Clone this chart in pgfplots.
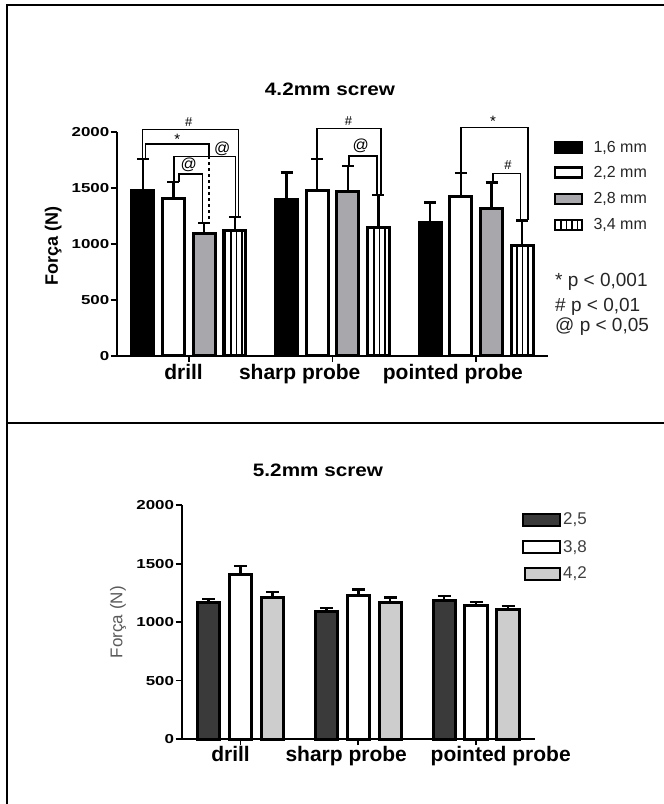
\documentclass[border=0pt]{standalone}
\usepackage{pgfplots}
\pgfplotsset{compat=1.18}
\usepackage{pgfplotstable}
\usepackage{graphicx}
\usepackage{fontspec}
\setmainfont{Liberation Sans}
\usetikzlibrary{patterns.meta}

\definecolor{midgray}{RGB}{168,168,172}
\definecolor{darkbar}{RGB}{58,58,58}
\definecolor{lightbar}{RGB}{205,205,205}

\newcommand\hs[2]{\scalebox{#1}[1]{#2}}
\newcommand\fs[1]{\fontsize{#1}{#1}\selectfont}

% 4.2 mm screw: x = group (0 drill, 1 sharp probe, 2 pointed probe), y = mean, e = upper error
\pgfplotstableread{
x y e
0 1475 285
1 1395 245
2 1188 185
}\tA
\pgfplotstableread{
x y e
0 1405 150
1 1478 285
2 1421 212
}\tB
\pgfplotstableread{
x y e
0 1098 92
1 1467 233
2 1316 236
}\tC
\pgfplotstableread{
x y e
0 1125 115
1 1150 286
2 985 226
}\tD
% 5.2 mm screw
\pgfplotstableread{
x y e
0 1166 34
1 1089 34
2 1189 34
}\bA
\pgfplotstableread{
x y e
0 1409 71
1 1232 48
2 1140 34
}\bB
\pgfplotstableread{
x y e
0 1212 48
1 1166 46
2 1109 31
}\bC

\pgfplotsset{
  mybase/.style={
    scale only axis, axis x line=bottom, axis y line=left,
    axis line style={line width=2.2pt,-},
    xmin=-0.5, xmax=2.5, ymin=0, ymax=2000, clip=false,
    xtick={0,1,2}, xticklabels={},
    ytick={0,500,1000,1500,2000},
    yticklabels={\hs{1.3}{0},\hs{1.3}{500},\hs{1.3}{1000},\hs{1.3}{1500},\hs{1.3}{2000}},
    tick align=outside, major tick length=6pt,
    tick style={line width=1.8pt, black},
    yticklabel style={font=\bfseries\fs{13}, inner sep=1.5pt},
  },
  bars/.style={ybar, bar shift=0pt, draw=black, line width=3pt,
    error bars/y dir=plus, error bars/y explicit,
    error bars/error bar style={line width=2.4pt, black},
    error bars/error mark options={rotate=90, mark size=#1, line width=2.4pt, black}},
  bars/.default=6pt,
  brk/.style={black, line width=1.5pt, mark=none, forget plot},
}

\begin{document}
\begin{tikzpicture}[x=1pt,y=1pt]
\useasboundingbox (0,0) rectangle (664,804);
\draw[line width=2pt] (6.5,0) -- (6.5,799) -- (664,799);
\draw[line width=2pt] (6.5,381.3) -- (664,381.3);

% ---------- top: 4.2mm screw ----------
\node[font=\bfseries\fs{18}] at (330,715) {\hs{1.15}{4.2mm screw}};
\begin{axis}[mybase, at={(117pt,448.3pt)}, anchor=south west, width=431pt, height=223.4pt]
\addplot[bars, bar width=0.153, fill=black] table[x expr=\thisrow{x}-0.32,y=y,y error=e]{\tA};
\addplot[bars, bar width=0.153, fill=white] table[x expr=\thisrow{x}-0.107,y=y,y error=e]{\tB};
\addplot[bars, bar width=0.153, fill=midgray] table[x expr=\thisrow{x}+0.107,y=y,y error=e]{\tC};
\addplot[bars, bar width=0.153, fill=white,
  postaction={pattern={Lines[angle=90,distance=5.5pt,line width=1.4pt]}, pattern color=black}]
  table[x expr=\thisrow{x}+0.32,y=y,y error=e]{\tD};
% significance brackets, drill
\addplot[brk] coordinates {(-0.324,1760) (-0.324,2027) (0.347,2027) (0.347,1240)};
\addplot[brk] coordinates {(-0.301,1760) (-0.301,1893) (0.139,1893) (0.139,1788)};
\addplot[brk, dashed] coordinates {(0.139,1788) (0.139,1190)};
\addplot[brk] coordinates {(-0.104,1558) (-0.104,1782) (0.324,1782) (0.324,1240)};
\addplot[brk] coordinates {(-0.07,1558) (-0.07,1627) (0.095,1627) (0.095,1190)};
% sharp probe
\addplot[brk] coordinates {(0.892,1763) (0.892,2036) (1.336,2036) (1.336,1436)};
\addplot[brk] coordinates {(1.116,1700) (1.116,1788) (1.308,1788) (1.308,1436)};
% pointed probe
\addplot[brk] coordinates {(1.893,1633) (1.893,2045) (2.36,2045) (2.36,1211)};
\addplot[brk] coordinates {(2.118,1552) (2.118,1633) (2.308,1633) (2.308,1211)};
\node[font=\fs{13}] at (axis cs:0,2095) {\#};
\node[font=\fs{15}] at (axis cs:-0.081,1935) {*};
\node[font=\fs{16}] at (axis cs:0.232,1856) {@};
\node[font=\fs{16}] at (axis cs:0.0,1707) {@};
\node[font=\fs{13}] at (axis cs:1.111,2101) {\#};
\node[font=\fs{16}] at (axis cs:1.197,1877) {@};
\node[font=\fs{15}] at (axis cs:2.118,2100) {*};
\node[font=\fs{13}] at (axis cs:2.222,1707) {\#};
% category labels
\node[font=\bfseries\fs{21}, anchor=base] at (axis cs:-0.037,0) [yshift=-23.5pt] {drill};
\node[font=\bfseries\fs{21}, anchor=base] at (axis cs:0.772,0) [yshift=-23.5pt] {sharp probe};
\node[font=\bfseries\fs{21}, anchor=base] at (axis cs:1.838,0) [yshift=-23.5pt] {pointed probe};
\node[font=\bfseries\fs{18}, rotate=90] at (axis description cs:-0.148,0.49) {Força (N)};
\end{axis}

% top legend
\begin{scope}[line width=2.4pt]
\draw[fill=black] (555,651.3) rectangle (581.7,661.3);
\draw[fill=white] (555,626.3) rectangle (581.7,636.3);
\draw[fill=midgray] (555,599.7) rectangle (581.7,609.7);
\draw[fill=white, postaction={pattern={Lines[angle=90,distance=5.5pt,line width=1.4pt]}, pattern color=black}] (555,574) rectangle (581.7,584);
\end{scope}
\begin{scope}[font=\fs{16}, text=black!85]
\node[anchor=west, inner sep=0pt] at (593.3,656.3) {1,6 mm};
\node[anchor=west, inner sep=0pt] at (593.3,631.3) {2,2 mm};
\node[anchor=west, inner sep=0pt] at (593.3,604.7) {2,8 mm};
\node[anchor=west, inner sep=0pt] at (593.3,579) {3,4 mm};
\end{scope}
\begin{scope}[font=\fs{19}, text=black!85]
\node[anchor=west, inner sep=0pt] at (555,522.3) {* p < 0,001};
\node[anchor=west, inner sep=0pt] at (555,497.3) {\# p < 0,01};
\node[anchor=west, inner sep=0pt] at (555,477.3) {@ p < 0,05};
\end{scope}

% ---------- bottom: 5.2mm screw ----------
\node[font=\bfseries\fs{18}] at (318,333.3) {\hs{1.15}{5.2mm screw}};
\begin{axis}[mybase, at={(181.7pt,65pt)}, anchor=south west, width=353.3pt, height=233.7pt]
\addplot[bars=6.5pt, bar width=0.19, fill=darkbar] table[x expr=\thisrow{x}-0.271,y=y,y error=e]{\bA};
\addplot[bars=6.5pt, bar width=0.19, fill=white] table[x=x,y=y,y error=e]{\bB};
\addplot[bars=6.5pt, bar width=0.19, fill=lightbar] table[x expr=\thisrow{x}+0.271,y=y,y error=e]{\bC};
\node[font=\bfseries\fs{21}, anchor=base] at (axis cs:-0.085,0) [yshift=-22.7pt] {drill};
\node[font=\bfseries\fs{21}, anchor=base] at (axis cs:0.897,0) [yshift=-22.7pt] {sharp probe};
\node[font=\bfseries\fs{21}, anchor=base] at (axis cs:2.209,0) [yshift=-22.7pt] {pointed probe};
\node[font=\fs{17}, text=black!65, rotate=90] at (axis description cs:-0.18,0.5) {Força (N)};
\end{axis}

% bottom legend
\begin{scope}[line width=2.4pt]
\draw[fill=darkbar] (523,278) rectangle (560,290);
\draw[fill=white] (523,250.7) rectangle (560,262.7);
\draw[fill=lightbar] (525,224) rectangle (560,236);
\end{scope}
\begin{scope}[font=\fs{17}, text=black!75]
\node[anchor=west, inner sep=0pt] at (563,284) {2,5};
\node[anchor=west, inner sep=0pt] at (563,256.7) {3,8};
\node[anchor=west, inner sep=0pt] at (563,230) {4,2};
\end{scope}
\end{tikzpicture}
\end{document}
